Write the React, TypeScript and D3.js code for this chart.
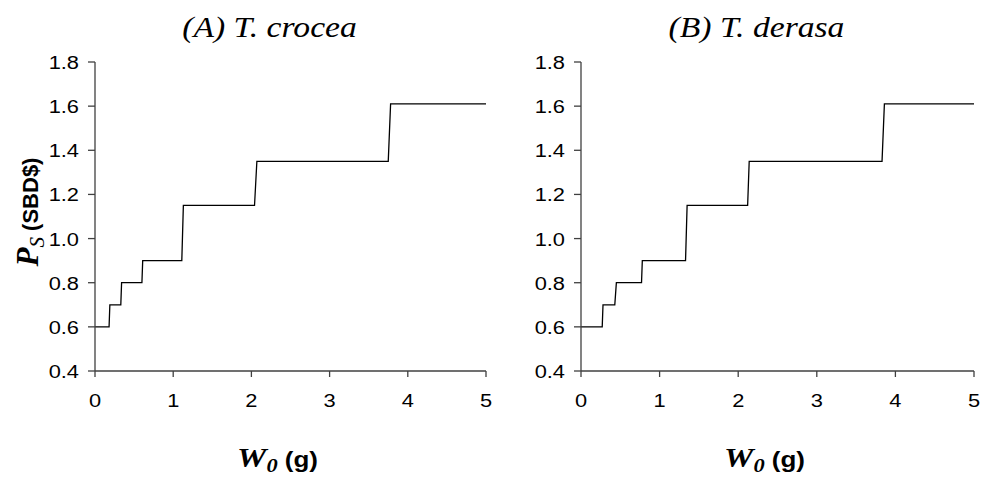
import React from 'react';
import * as d3 from 'd3';

// step points: [W0 (g), Ps (SBD$)]
const crocea: [number, number][] = [
  [0, 0.6], [0.18, 0.6], [0.19, 0.7], [0.33, 0.7], [0.34, 0.8], [0.6, 0.8], [0.61, 0.9],
  [1.11, 0.9], [1.13, 1.15], [2.04, 1.15], [2.07, 1.35], [3.75, 1.35], [3.78, 1.61], [5, 1.61],
];
const derasa: [number, number][] = [
  [0, 0.6], [0.27, 0.6], [0.28, 0.7], [0.43, 0.7], [0.45, 0.8], [0.77, 0.8], [0.78, 0.9],
  [1.33, 0.9], [1.35, 1.15], [2.12, 1.15], [2.14, 1.35], [3.83, 1.35], [3.86, 1.61], [5, 1.61],
];
const xTicks = [0, 1, 2, 3, 4, 5];
const yTicks = [0.4, 0.6, 0.8, 1.0, 1.2, 1.4, 1.6, 1.8];
const panels = [
  { letter: '(A)', species: 'T. crocea', data: crocea, left: 95, right: 486, yLabel: true },
  { letter: '(B)', species: 'T. derasa', data: derasa, left: 581, right: 974, yLabel: false },
];

const top = 62;
const bottom = 371;
const axisColor = '#404040';
const sx = 1.18; // glyphs in the picture look a bit wide

const Panel = ({ p }: { p: typeof panels[number] }) => {
  const x = d3.scaleLinear().domain([0, 5]).range([p.left, p.right]);
  const y = d3.scaleLinear().domain([0.4, 1.8]).range([bottom, top]);
  const line = d3.line<[number, number]>().x(d => x(d[0])).y(d => y(d[1]));
  const mid = (p.left + p.right) / 2;

  return (
    <g>
      <text transform={`translate(${mid - 21},37) scale(${sx},1)`} textAnchor="middle"
        fontFamily="'Liberation Serif', serif" fontStyle="italic" fontSize={28.5}>
        {p.letter} {p.species}
      </text>

      <path d={line(p.data) ?? ''} fill="none" stroke="#000" strokeWidth={1.3} />

      <line x1={p.left} x2={p.left} y1={top} y2={bottom} stroke={axisColor} strokeWidth={1.3} />
      <line x1={p.left} x2={p.right} y1={bottom} y2={bottom} stroke={axisColor} strokeWidth={1.3} />
      {yTicks.map(t => (
        <g key={t}>
          <line x1={p.left - 7} x2={p.left} y1={y(t)} y2={y(t)} stroke={axisColor} strokeWidth={1.3} />
          <text transform={`translate(${p.left - 16},${y(t) + 7}) scale(${sx},1)`} textAnchor="end"
            fontFamily="'Liberation Sans', Arial, sans-serif" fontSize={18.5}>
            {d3.format('.1f')(t)}
          </text>
        </g>
      ))}
      {xTicks.map(t => (
        <g key={t}>
          <line x1={x(t)} x2={x(t)} y1={bottom} y2={bottom + 6} stroke={axisColor} strokeWidth={1.3} />
          <text transform={`translate(${x(t)},407) scale(${sx},1)`} textAnchor="middle"
            fontFamily="'Liberation Sans', Arial, sans-serif" fontSize={18.5}>
            {t}
          </text>
        </g>
      ))}

      <text transform={`translate(${x(2.5) - 13},467) scale(${sx},1)`} textAnchor="middle" fontWeight="bold">
        <tspan fontFamily="'Liberation Serif', serif" fontStyle="italic" fontSize={28}>W</tspan>
        <tspan fontFamily="'Liberation Serif', serif" fontStyle="italic" fontSize={19} dy={5}>0</tspan>
        <tspan fontFamily="'Liberation Sans', Arial, sans-serif" fontSize={22} dy={-5}> (g)</tspan>
      </text>

      {p.yLabel && (
        <text transform="translate(38,212) rotate(-90)" textAnchor="middle" fontWeight="bold">
          <tspan fontFamily="'Liberation Serif', serif" fontStyle="italic" fontSize={31}>P</tspan>
          <tspan fontFamily="'Liberation Serif', serif" fontStyle="italic" fontWeight="normal" fontSize={21} dy={6}>S</tspan>
          <tspan fontFamily="'Liberation Sans', Arial, sans-serif" fontSize={22} dy={-6}> (SBD$)</tspan>
        </text>
      )}
    </g>
  );
};

export default function App() {
  return (
    <svg width={982} height={484} style={{ position: 'absolute', left: 0, top: 0, background: '#fff' }}>
      {panels.map(p => <Panel key={p.letter} p={p} />)}
    </svg>
  );
}
